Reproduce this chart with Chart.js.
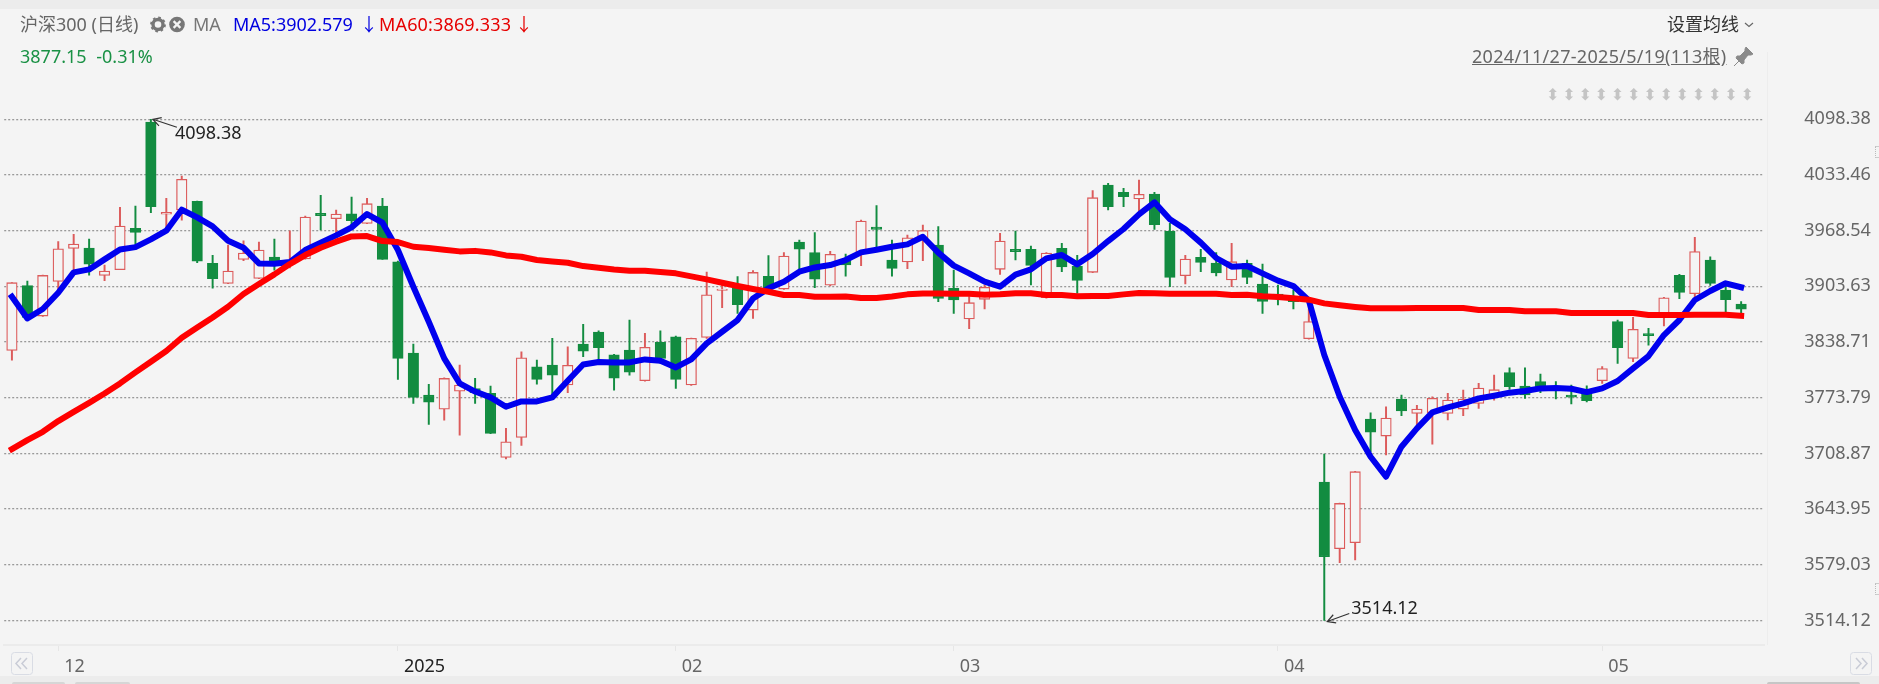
<!DOCTYPE html>
<html>
<head>
<meta charset="utf-8">
<title>沪深300 (日线)</title>
<script src="https://cdn.jsdelivr.net/npm/chart.js@4"></script>
<style>
    html, body { margin: 0; padding: 0; width: 1879px; height: 684px; overflow: hidden; background: #f4f4f4; }
    body { font-family: "Noto Sans", "Noto Sans CJK SC", sans-serif; font-size: 18px; position: relative; }
    canvas { position: absolute; left: 0; top: 0; }
    .t { position: absolute; white-space: nowrap; line-height: 24px; height: 24px; }
    .band { position: absolute; left: 0; width: 1879px; background: #ececec; }
    .nav { position: absolute; top: 652px; }
    .thumb { position: absolute; top: 682px; height: 2px; background: #d6d6d6; border-radius: 2px 2px 0 0; }
    .grip { position: absolute; left: 1875px; width: 4px; height: 12px; border-top: 1px solid #ccc; border-bottom: 1px solid #ccc; border-left: 1px dotted #bbb; box-sizing: border-box; }
</style>
</head>
<body>
<canvas id="kline" width="1879" height="684"></canvas>
<div class="band" style="top:0;height:9px"></div>
<div class="band" style="top:676px;height:8px"></div>
<div class="thumb" style="left:12px;width:53px"></div>
<div class="thumb" style="left:75px;width:55px"></div>
<div class="thumb" style="left:1767px;width:93px;background:#c6c6c6"></div>
<div style="position:absolute;left:1767px;top:52px;width:1px;height:593px;background:#ededed"></div>
<div class="grip" style="top:146px"></div>
<div class="grip" style="top:583px"></div>

<div class="t" style="left:20px;top:12px;color:#666">沪深300 (日线)</div>
<svg style="position:absolute;left:150px;top:16px" width="36" height="17" viewBox="0 0 36 17">
    <circle cx="8" cy="8.5" r="5" fill="none" stroke="#777" stroke-width="3.4"/>
    <circle cx="8" cy="8.5" r="7" fill="none" stroke="#777" stroke-width="1.8" stroke-dasharray="2.6 2.9"/>
    <circle cx="27" cy="8.5" r="7.8" fill="#777"/>
    <path d="M23.6 5.1 L30.4 11.9 M30.4 5.1 L23.6 11.9" stroke="#f4f4f4" stroke-width="2.2"/>
</svg>
<div class="t" style="left:193px;top:12px;color:#777">MA</div>
<div class="t" style="left:233px;top:12px;color:#0000e0">MA5:3902.579</div>
<div class="t" style="left:360px;top:12px;color:#0000e0">↓</div>
<div class="t" style="left:379px;top:12px;color:#e60000;letter-spacing:0.15px">MA60:3869.333</div>
<div class="t" style="left:515px;top:12px;color:#e60000">↓</div>
<div class="t" style="left:20px;top:44px;color:#1a9145;word-spacing:5px">3877.15 -0.31%</div>

<div class="t" style="left:1667px;top:12px;color:#333">设置均线</div>
<svg style="position:absolute;left:1744px;top:22px" width="10" height="6"><path d="M1 1 L5 4.5 L9 1" fill="none" stroke="#666" stroke-width="1.2"/></svg>
<div class="t" style="left:1472px;top:44px;color:#666;text-decoration:underline;letter-spacing:0.3px">2024/11/27-2025/5/19(113根)</div>
<svg style="position:absolute;left:1733px;top:46px" width="21" height="21" viewBox="0 0 21 21">
    <path d="M13 1 L20 8 L18 9 L15 9 L11 14 L11 17 L9 18 L3 12 L4 10 L7 10 L12 5 L12 3 Z M6 15 L1 20" fill="#8a8a8a" stroke="#8a8a8a"/>
</svg>
<div id="markRow"></div>

<svg class="nav" style="left:11px" width="22" height="23" viewBox="0 0 22 23">
    <rect x="0.5" y="0.5" width="21" height="22" rx="3" fill="none" stroke="#d9dce4"/>
    <path d="M10 6 L5 11.5 L10 17 M16 6 L11 11.5 L16 17" fill="none" stroke="#c9ccd6" stroke-width="1.5"/>
</svg>
<svg class="nav" style="left:1850px" width="22" height="23" viewBox="0 0 22 23">
    <rect x="0.5" y="0.5" width="21" height="22" rx="3" fill="none" stroke="#d9dce4"/>
    <path d="M6 6 L11 11.5 L6 17 M12 6 L17 11.5 L12 17" fill="none" stroke="#c9ccd6" stroke-width="1.5"/>
</svg>

<script>
// trading days shown (the last category is a blank slot before the price axis)
const dates = [
    '11-27','11-28','11-29',
    '12-02','12-03','12-04','12-05','12-06','12-09','12-10','12-11','12-12','12-13','12-16','12-17','12-18','12-19','12-20','12-23','12-24','12-25','12-26','12-27','12-30','12-31',
    '01-02','01-03','01-06','01-07','01-08','01-09','01-10','01-13','01-14','01-15','01-16','01-17','01-20','01-21','01-22','01-23','01-24','01-27',
    '02-05','02-06','02-07','02-10','02-11','02-12','02-13','02-14','02-17','02-18','02-19','02-20','02-21','02-24','02-25','02-26','02-27','02-28',
    '03-03','03-04','03-05','03-06','03-07','03-10','03-11','03-12','03-13','03-14','03-17','03-18','03-19','03-20','03-21','03-24','03-25','03-26','03-27','03-28','03-31',
    '04-01','04-02','04-03','04-07','04-08','04-09','04-10','04-11','04-14','04-15','04-16','04-17','04-18','04-21','04-22','04-23','04-24','04-25','04-28','04-29','04-30',
    '05-06','05-07','05-08','05-09','05-12','05-13','05-14','05-15','05-16','05-19',
    ''
];

const opens = [
    3829.0,3904.4,3869.0,3909.4,3947.9,3948.3,3916.4,3923.0,3971.2,4095.2,
    3987.9,3992.6,4002.7,3930.4,3907.1,3935.1,3912.9,3937.8,3929.6,3935.5,
    3988.7,3982.5,3988.3,3977.0,3997.3,3932.3,3825.8,3776.8,3760.5,3781.5,
    3784.6,3778.8,3704.2,3727.5,3809.9,3811.9,3788.6,3836.4,3850.3,3823.9,
    3829.4,3793.6,3838.3,3844.9,3788.6,3844.1,3898.9,3903.2,3876.0,3915.3,
    3900.5,3955.3,3942.9,3905.1,3934.3,3942.1,3972.8,3934.3,3932.0,3959.6,
    3951.8,3901.3,3865.6,3888.5,3923.5,3946.8,3946.8,3890.4,3948.0,3927.0,
    3920.0,4021.8,4013.3,4005.5,4011.3,3967.8,3916.1,3937.5,3930.9,3911.0,
    3930.5,3906.4,3894.7,3890.8,3842.6,3675.5,3597.8,3604.8,3749.0,3729.1,
    3772.3,3755.6,3756.3,3755.6,3760.6,3767.2,3777.0,3803.0,3787.4,3792.5,
    3786.7,3777.0,3778.9,3793.7,3862.5,3819.7,3848.5,3868.3,3916.5,3895.1,
    3934.4,3899.4,3883.1
];
const closes = [
    3907.9,3867.4,3916.4,3947.5,3953.0,3929.6,3921.5,3973.9,3966.6,3996.5,
    3989.9,4028.4,3933.1,3912.5,3921.5,3942.5,3946.0,3928.5,3934.3,3984.4,
    3986.0,3987.9,3980.2,4000.0,3935.1,3819.6,3774.1,3768.7,3796.3,3788.5,
    3779.6,3732.2,3722.5,3820.4,3795.2,3800.2,3811.5,3828.2,3832.1,3796.7,
    3803.7,3832.5,3819.6,3795.2,3843.0,3893.9,3900.5,3882.2,3919.9,3901.3,
    3939.0,3947.1,3912.1,3940.9,3928.5,3979.8,3970.1,3924.6,3960.3,3968.6,
    3889.7,3887.7,3884.6,3902.5,3956.5,3944.1,3928.1,3942.5,3926.2,3910.6,
    4007.0,3996.5,4008.2,4010.9,3975.6,3914.1,3935.5,3931.6,3919.2,3932.4,
    3914.1,3886.2,3892.4,3885.8,3862.5,3588.4,3650.6,3687.6,3733.8,3750.1,
    3758.3,3760.6,3773.1,3771.1,3772.3,3785.1,3783.2,3786.7,3777.0,3784.7,
    3782.0,3774.6,3770.3,3807.7,3832.1,3853.5,3846.1,3890.4,3896.7,3944.1,
    3907.2,3888.1,3877.15
];
const highs = [
    3907.9,3909.8,3916.8,3955.7,3964.2,3958.8,3928.5,3995.7,3997.3,4098.38,
    4006.2,4032.2,4003.1,3939.7,3951.8,3956.8,3955.3,3958.8,3968.5,3985.6,
    4009.7,3992.6,4007.8,4006.2,4006.2,3933.1,3836.3,3789.3,3797.1,3811.8,
    3796.3,3787.4,3738.0,3827.4,3817.7,3843.0,3833.2,3859.3,3851.9,3824.3,
    3864.3,3848.8,3851.9,3845.7,3843.3,3920.3,3905.1,3914.9,3921.9,3939.4,
    3942.9,3957.6,3966.2,3944.4,3941.3,3980.9,3997.7,3957.6,3963.4,3975.2,
    3973.2,3922.7,3891.6,3905.2,3965.5,3968.2,3950.7,3942.9,3953.8,3939.8,
    4015.2,4023.8,4017.9,4027.6,4013.3,3977.1,3939.8,3946.8,3942.9,3953.8,
    3934.4,3929.7,3905.2,3899.4,3889.7,3708.1,3651.0,3688.0,3756.3,3763.3,
    3777.0,3764.9,3775.0,3778.9,3782.8,3790.6,3800.3,3808.8,3808.8,3801.4,
    3792.5,3788.6,3787.8,3810.0,3864.4,3867.5,3854.7,3890.8,3917.6,3960.8,
    3938.2,3907.2,3885.8
];
const lows = [
    3817.7,3865.1,3868.5,3899.3,3920.7,3916.8,3910.2,3923.0,3952.6,3989.5,
    3967.3,3980.9,3931.2,3901.6,3906.9,3933.5,3912.5,3922.6,3925.0,3935.3,
    3969.3,3965.4,3975.1,3976.8,3934.9,3795.1,3767.1,3742.6,3747.7,3730.2,
    3767.2,3732.0,3702.6,3718.2,3789.7,3776.9,3779.6,3821.6,3817.7,3782.7,
    3800.2,3793.2,3813.8,3784.6,3788.2,3843.0,3878.7,3872.1,3866.3,3899.3,
    3900.1,3922.6,3902.0,3904.0,3915.6,3927.7,3949.8,3915.6,3924.2,3933.6,
    3885.8,3872.2,3854.3,3877.2,3917.6,3934.4,3905.2,3890.0,3920.8,3895.5,
    3919.6,3992.7,3996.5,3988.8,3970.1,3903.3,3906.4,3920.8,3915.7,3903.3,
    3906.8,3872.2,3881.9,3877.2,3842.2,3514.12,3581.4,3584.6,3710.9,3707.0,
    3752.9,3742.0,3719.8,3747.8,3752.9,3761.4,3771.1,3783.6,3773.1,3779.7,
    3772.3,3766.5,3768.8,3790.6,3813.9,3815.8,3835.2,3857.4,3889.3,3885.8,
    3904.8,3872.2,3870.2
];
const ma5 = [
    3891.5,3866.3,3877.2,3896.2,3919.9,3923.4,3935.1,3946.7,3949.4,3958.4,
    3968.5,3993.0,3984.0,3973.5,3956.8,3948.7,3930.4,3930.0,3932.0,3946.0,
    3954.5,3963.1,3972.4,3987.9,3977.8,3946.0,3903.2,3862.4,3819.6,3790.5,
    3781.0,3774.2,3763.3,3769.5,3769.5,3774.2,3793.6,3812.6,3815.4,3815.0,
    3815.0,3818.5,3816.9,3809.1,3818.5,3837.1,3850.7,3864.3,3889.6,3901.3,
    3909.0,3920.7,3925.7,3928.5,3934.3,3943.2,3946.3,3949.8,3952.6,3961.5,
    3943.0,3927.8,3918.8,3909.1,3903.3,3917.3,3923.5,3936.3,3940.2,3929.3,
    3941.4,3956.5,3970.5,3987.6,4001.6,3981.8,3970.1,3954.6,3936.7,3926.6,
    3927.4,3918.8,3910.3,3904.0,3887.3,3823.6,3775.0,3736.1,3705.0,3681.7,
    3716.7,3738.1,3756.7,3762.6,3767.2,3773.1,3776.2,3779.7,3781.6,3784.7,
    3785.1,3784.3,3780.4,3784.7,3793.3,3808.0,3822.4,3846.9,3864.4,3887.7,
    3898.2,3907.2,3902.579
];
const ma60 = [
    3713.9,3724.4,3734.1,3746.6,3757.4,3767.9,3778.8,3790.5,3803.3,3815.7,
    3828.2,3843.7,3855.8,3867.4,3879.9,3894.7,3906.3,3917.6,3929.6,3940.1,
    3948.7,3955.7,3961.9,3962.3,3956.4,3955.3,3949.8,3948.3,3946.3,3944.4,
    3945.0,3943.2,3939.7,3938.2,3934.3,3932.7,3931.2,3927.3,3925.4,3923.4,
    3921.9,3921.9,3920.3,3918.8,3915.3,3911.8,3907.9,3904.0,3900.5,3897.4,
    3893.5,3893.5,3891.6,3891.6,3891.9,3890.0,3890.0,3891.9,3894.3,3895.4,
    3895.4,3895.1,3895.1,3893.9,3894.3,3895.5,3895.5,3893.5,3893.5,3892.0,
    3892.4,3892.4,3894.3,3895.9,3895.5,3895.1,3895.1,3895.1,3895.1,3893.5,
    3893.9,3892.0,3891.2,3889.7,3888.1,3883.8,3881.5,3879.6,3878.0,3878.0,
    3878.0,3878.4,3878.4,3878.4,3878.4,3876.1,3876.1,3876.1,3874.5,3874.5,
    3874.5,3872.6,3872.6,3872.6,3872.6,3872.6,3870.2,3870.2,3870.2,3870.6,
    3870.6,3870.6,3869.333
];

const priceTicks = [4098.38, 4033.46, 3968.54, 3903.63, 3838.71, 3773.79, 3708.87, 3643.95, 3579.03, 3514.12];
const monthTickIndex = [3, 25, 43, 61, 82, 103];
const monthTickLabels = ['12', '2025', '02', '03', '04', '05'];

const RED = '#dc5b5b';
const GREEN = '#128c40';
const BG = '#f4f4f4';
const isUp = i => closes[i] >= opens[i];

// row of small drag marks under the date range
for (let n = 0; n < 13; n++) {
    const s = document.createElement('div');
    s.className = 't';
    s.textContent = '⬍';
    s.style.cssText = `left:${1546 + n * 16.2}px;top:83px;color:#c4c4c4;font:16px/24px "DejaVu Sans"`;
    document.getElementById('markRow').appendChild(s);
}

// high / low call-outs with the little arrows
const extremeLabels = {
    id: 'extremeLabels',
    afterDatasetsDraw(chart) {
        const { ctx, scales: { x, y } } = chart;
        const hi = highs.indexOf(Math.max(...highs));
        const lo = lows.indexOf(Math.min(...lows));
        drawCallout(ctx, x.getPixelForValue(hi) + 2, y.getPixelForValue(highs[hi]), 24, 8, highs[hi], 22, 15);
        drawCallout(ctx, x.getPixelForValue(lo) + 3, y.getPixelForValue(lows[lo]) + 1, 22, -8, lows[lo], 24, -13);
    }
};

function drawCallout(ctx, tipX, tipY, dx, dy, value, textDx, textDy) {
    const ang = Math.atan2(dy, dx);
    ctx.save();
    ctx.strokeStyle = '#333';
    ctx.lineWidth = 1.2;
    ctx.beginPath();
    ctx.moveTo(tipX + dx, tipY + dy);
    ctx.lineTo(tipX, tipY);
    ctx.moveTo(tipX + 9 * Math.cos(ang + 0.5), tipY + 9 * Math.sin(ang + 0.5));
    ctx.lineTo(tipX, tipY);
    ctx.lineTo(tipX + 9 * Math.cos(ang - 0.5), tipY + 9 * Math.sin(ang - 0.5));
    ctx.stroke();
    ctx.fillStyle = '#222';
    ctx.font = '18px "Noto Sans"';
    ctx.textBaseline = 'middle';
    ctx.fillText(value.toFixed(2), tipX + textDx, tipY + textDy);
    ctx.restore();
}

new Chart(document.getElementById('kline'), {
    type: 'bar',
    data: {
        labels: dates,
        datasets: [
            {
                type: 'line',
                label: 'MA60',
                data: ma60,
                borderColor: '#ff0000',
                borderWidth: 6,
                pointRadius: 0,
                tension: 0,
                borderCapStyle: 'square',
                borderJoinStyle: 'round',
                order: 0
            },
            {
                type: 'line',
                label: 'MA5',
                data: ma5,
                borderColor: '#0000ee',
                borderWidth: 6,
                pointRadius: 0,
                tension: 0,
                borderCapStyle: 'square',
                borderJoinStyle: 'round',
                order: 1
            },
            {
                label: 'body',
                data: opens.map((o, i) => [o, closes[i]]),
                grouped: false,
                barThickness: 10.5,
                backgroundColor: ctx => isUp(ctx.dataIndex) ? BG : GREEN,
                borderColor: ctx => isUp(ctx.dataIndex) ? RED : GREEN,
                borderWidth: 1.3,
                borderSkipped: false,
                order: 2
            },
            {
                label: 'wick',
                data: lows.map((l, i) => [l, highs[i]]),
                grouped: false,
                barThickness: 1.3,
                backgroundColor: ctx => isUp(ctx.dataIndex) ? RED : GREEN,
                borderWidth: 0,
                order: 3
            }
        ]
    },
    options: {
        responsive: false,
        animation: false,
        events: [],
        layout: { padding: { left: 4.2, top: 52, right: 0, bottom: 0 } },
        plugins: { legend: { display: false }, tooltip: { enabled: false } },
        scales: {
            x: {
                type: 'category',
                offset: true,
                afterBuildTicks(scale) {
                    scale.ticks = monthTickIndex.map(v => ({ value: v }));
                },
                afterFit(scale) {
                    scale.height = 39;
                    scale.paddingLeft = 0;
                    scale.paddingRight = 0;
                },
                grid: {
                    offset: false,
                    drawOnChartArea: false,
                    drawTicks: true,
                    tickLength: 6,
                    color: '#e6e6e6'
                },
                border: { color: '#ebebeb', width: 2 },
                ticks: {
                    autoSkip: false,
                    maxRotation: 0,
                    align: 'start',
                    labelOffset: 6,
                    padding: 5,
                    font: { family: '"Noto Sans"', size: 18 },
                    color: ctx => monthTickLabels[ctx.index] === '2025' ? '#222' : '#666',
                    callback: (v, i) => monthTickLabels[i]
                }
            },
            y: {
                position: 'right',
                min: 3485.56,
                max: 4176.83,
                afterBuildTicks(scale) {
                    scale.ticks = priceTicks.map(v => ({ value: v }));
                },
                afterFit(scale) {
                    scale.width = 114.7;
                    scale.paddingTop = 0;
                    scale.paddingBottom = 0;
                },
                grid: {
                    drawTicks: false,
                    color: '#999999',
                    lineWidth: 1.3
                },
                border: { display: false, dash: [2, 2] },
                ticks: {
                    padding: 40,
                    font: { family: '"Noto Sans"', size: 18 },
                    color: '#666',
                    callback: v => v.toFixed(2)
                }
            }
        }
    },
    plugins: [extremeLabels]
});
</script>
</body>
</html>
